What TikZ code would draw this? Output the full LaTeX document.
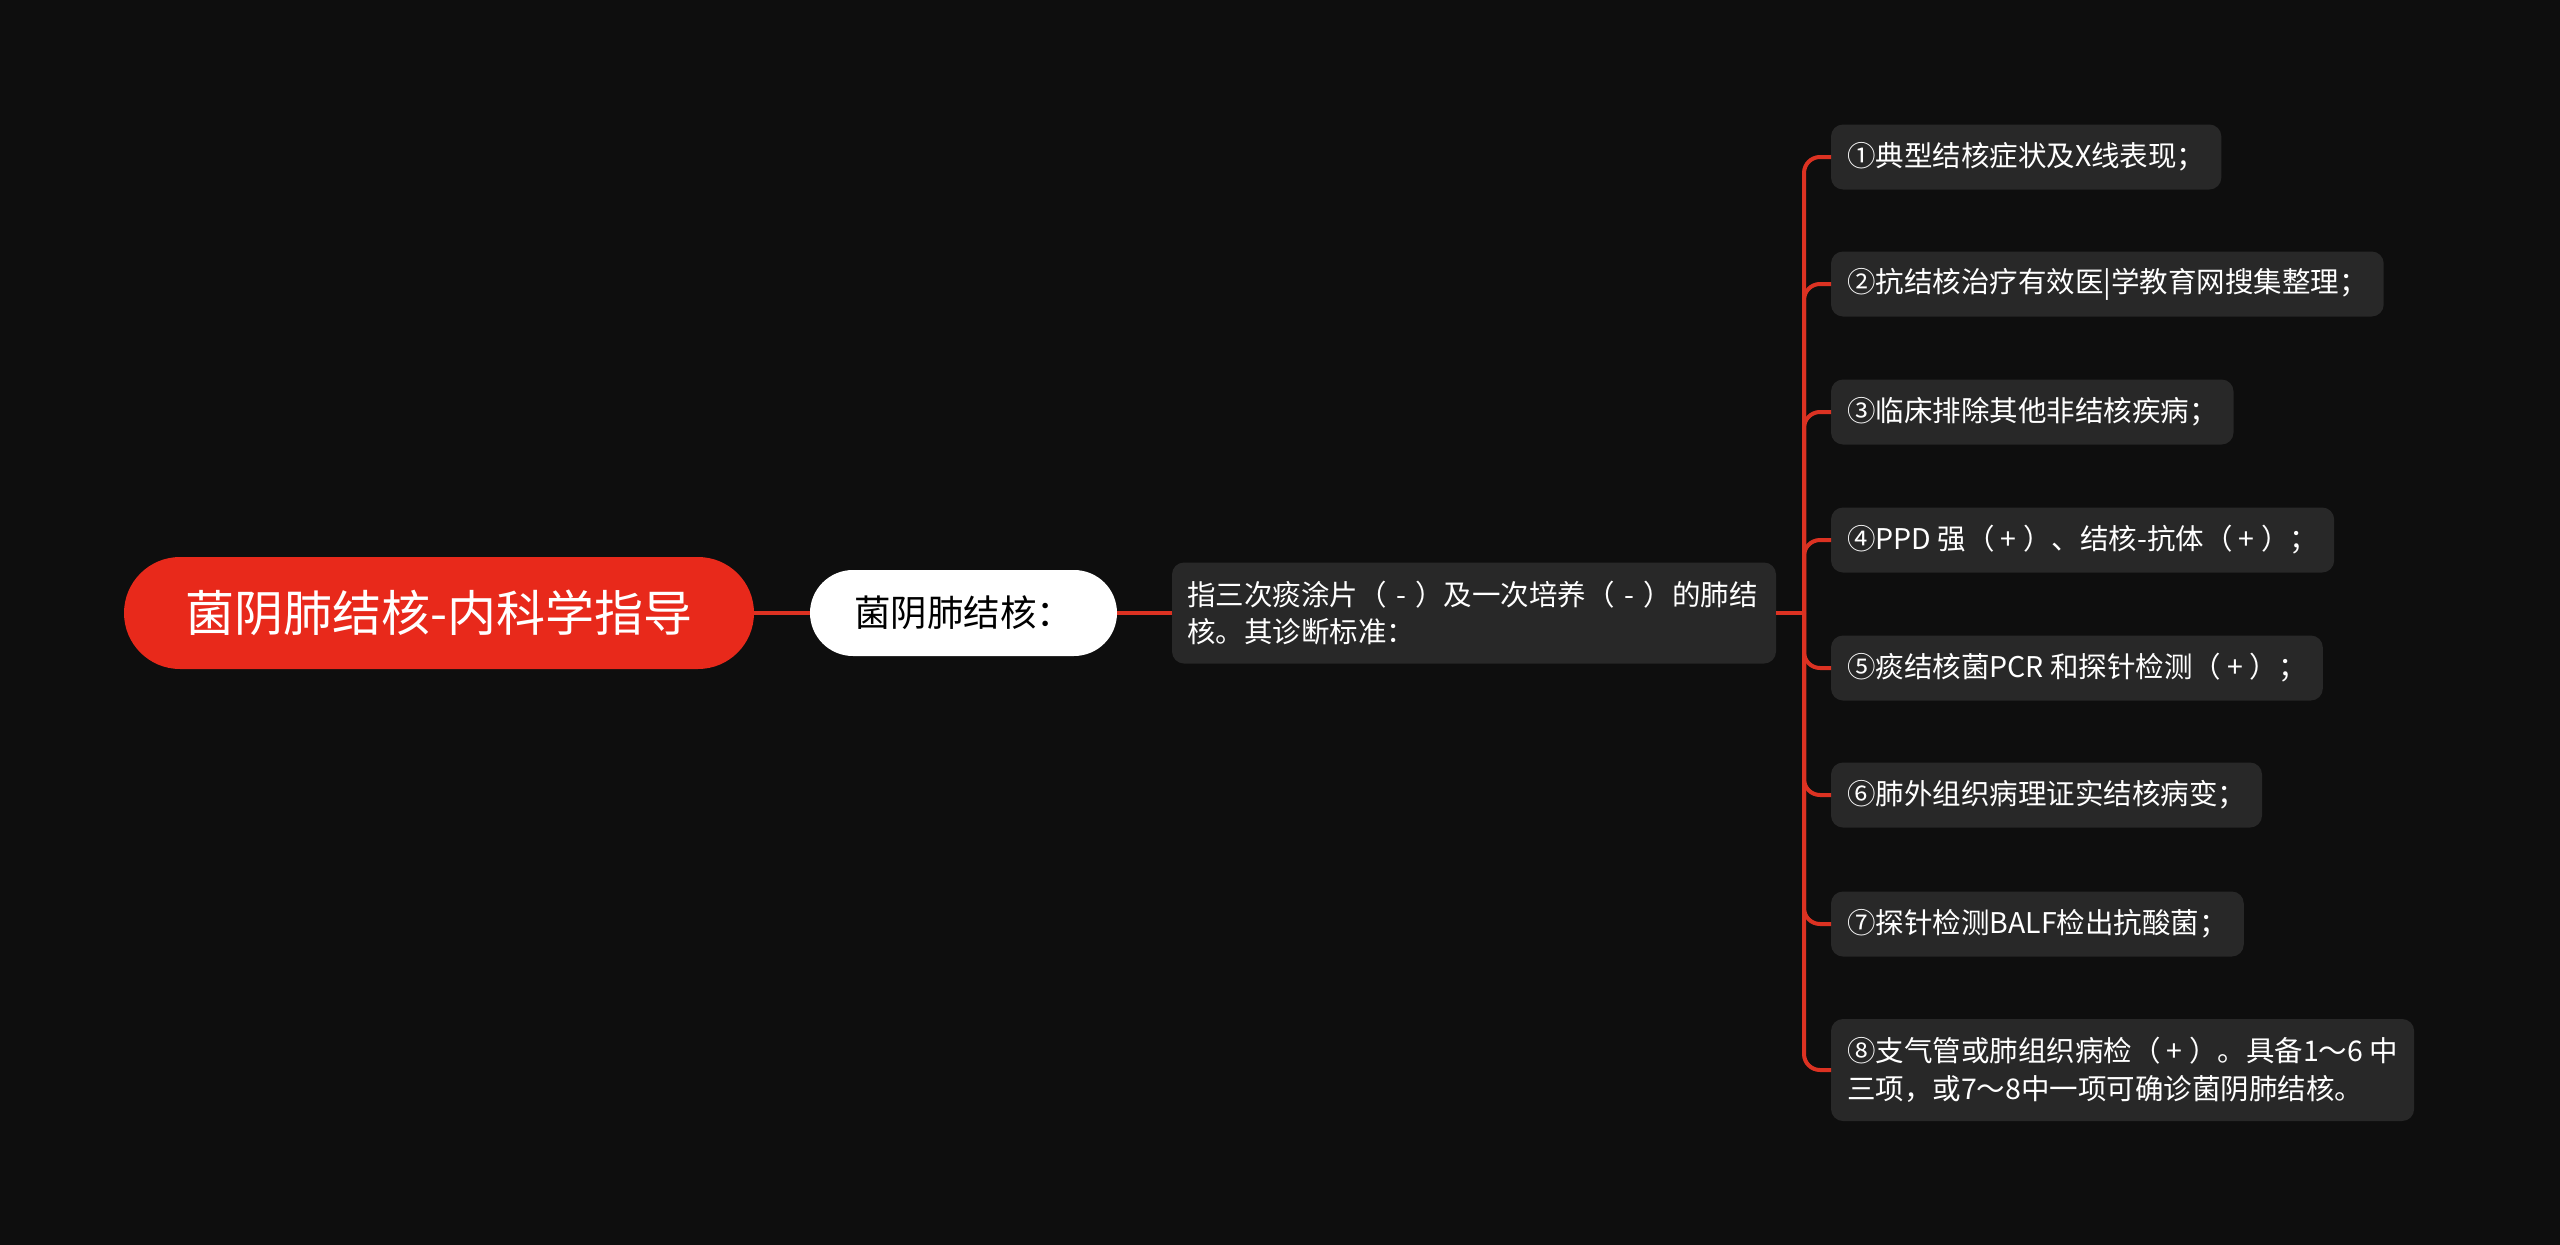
\documentclass[tikz,border=0pt]{standalone}
\usepackage{fontspec}
\setmainfont{Noto Sans CJK SC}
\definecolor{bgc}{HTML}{0E0E0E}
\definecolor{rootred}{HTML}{E8291B}
\definecolor{linered}{HTML}{DC3222}
\definecolor{boxgray}{HTML}{282828}
\begin{document}
\begin{tikzpicture}[x=1pt,y=-1pt,
  every node/.style={inner sep=0pt, outer sep=0pt},
  rootbox/.style={fill=rootred, rounded corners=56pt, minimum width=630pt, minimum height=112pt,
    text=white, font=\fontsize{49}{58}\selectfont},
  pillbox/.style={fill=white, rounded corners=43pt, minimum width=307pt, minimum height=86pt,
    text=black, font=\fontsize{36.5}{42}\selectfont},
  midbox/.style={fill=boxgray, rounded corners=12pt, minimum width=604pt, minimum height=101pt,
    inner xsep=15pt, text=white, align=left, font=\fontsize{28.5}{37}\selectfont},
  leafbox/.style={fill=boxgray, rounded corners=12pt, minimum height=65pt, anchor=west,
    inner xsep=16pt, text=white, align=left, font=\fontsize{28.5}{38}\selectfont},
  conn/.style={draw=linered, line width=4pt},
  branch/.style={draw=linered, line width=4pt, rounded corners=16pt}
]
\fill[bgc] (0,0) rectangle (2560,1245);
\useasboundingbox (0,0) rectangle (2560,1245);

\node[rootbox] (root) at (439,613) {菌阴肺结核-内科学指导};
\node[pillbox] (sub) at (963.5,613) {菌阴肺结核：};
\node[midbox, anchor=west, text width=574pt] (mid) at (1172,613) {指三次痰涂片（ - ）及一次培养（ - ）的肺结\\核。其诊断标准：};

\coordinate (spine) at (1804,613);

\node[leafbox] (c1) at (1831,157) {①典型结核症状及X线表现；};
\node[leafbox] (c2) at (1831,284) {②抗结核治疗有效医|学教育网搜集整理；};
\node[leafbox] (c3) at (1831,412) {③临床排除其他非结核疾病；};
\node[leafbox] (c4) at (1831,540) {④PPD 强（ + ）、结核-抗体（ + ）；};
\node[leafbox] (c5) at (1831,668) {⑤痰结核菌PCR 和探针检测（ + ）；};
\node[leafbox] (c6) at (1831,795) {⑥肺外组织病理证实结核病变；};
\node[leafbox] (c7) at (1831,924) {⑦探针检测BALF检出抗酸菌；};
\node[leafbox, minimum height=102pt] (c8) at (1831,1070) {⑧支气管或肺组织病检（ + ）。具备1～6 中\\三项，或7～8中一项可确诊菌阴肺结核。};

\draw[conn] (root.east) -- (sub.west);
\draw[conn] (sub.east) -- (mid.west);
\draw[conn] (mid.east) -- (spine);
\foreach \c in {c1,c2,c3,c4,c5,c6,c7,c8}{
  \draw[branch] (spine) -- (spine |- \c.west) -- (\c.west);
}
\end{tikzpicture}
\end{document}
